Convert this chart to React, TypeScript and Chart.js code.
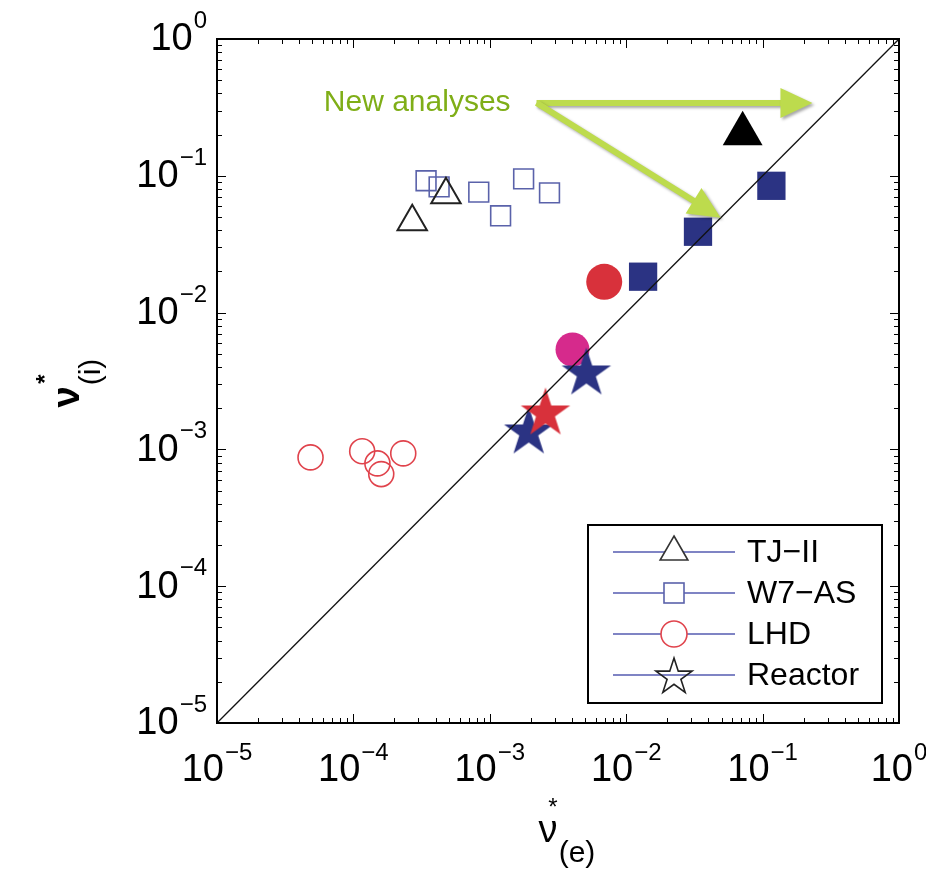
import React, { useEffect, useRef } from 'react';
import { Chart, registerables } from 'chart.js';

Chart.register(...registerables);

// ---------------- data ----------------
// earlier analyses (open markers)
const tjiiX = [2.7e-4, 4.77e-4];
const tjiiY = [0.0462, 0.0727];
const w7asX = [3.41e-4, 4.25e-4, 8.3e-4, 1.2e-3, 1.77e-3, 2.74e-3];
const w7asY = [0.092, 0.083, 0.076, 0.051, 0.095, 0.075];
const lhdX = [4.85e-5, 1.16e-4, 1.5e-4, 1.6e-4, 2.32e-4];
const lhdY = [8.74e-4, 9.7e-4, 7.9e-4, 6.6e-4, 9.35e-4];

// new analyses (filled markers)
const newTjiiX = [0.0714];
const newTjiiY = [0.2026];
const newW7asX = [0.0133, 0.0336, 0.116];
const newW7asY = [0.0183, 0.039, 0.0845];
const newLhdRedX = [6.9e-3];
const newLhdRedY = [0.0168];
const newLhdMagentaX = [4.04e-3];
const newLhdMagentaY = [5.37e-3];
const reactorNavyX = [1.93e-3, 5.1e-3];
const reactorNavyY = [1.33e-3, 3.59e-3];
const reactorRedX = [2.56e-3];
const reactorRedY = [1.83e-3];

// identity line
const diagonal = [1e-5, 1];

// axes
const decades = [-5, -4, -3, -2, -1, 0];
const tickBase = '10';
const xTitle = { main: 'ν', sup: '*', sub: '(e)' };
const yTitle = { main: 'ν', sup: '*', sub: '(i)' };

// legend
const legendLabels = ['TJ−II', 'W7−AS', 'LHD', 'Reactor'];

// annotation (data coordinates)
const annotationText = 'New analyses';
const annotationAnchor = [1.42e-3, 0.341];
const arrowStart = [2.2e-3, 0.341];
const arrowTipsX = [0.232, 0.0493];
const arrowTipsY = [0.341, 0.0494];

// ---------------- styles ----------------
const FONT = '"Liberation Sans", Arial, Helvetica, sans-serif';
const NAVY = '#2b3383';
const RED = '#d8313b';
const MAGENTA = '#d62a8c';
const OPEN_BLUE = '#5a62aa';
const OPEN_RED = '#e0434c';
const OPEN_BLACK = '#222222';
const LEGEND_LINE = '#7f84c4';
const ARROW = '#bddb4d';
const ANNOT = '#7fae17';

function starCanvas(R: number, fill: string | null, stroke: string | null, lw: number) {
  const pad = lw + 2;
  const size = Math.ceil(2 * R + 2 * pad);
  const c = document.createElement('canvas');
  c.width = size;
  c.height = size;
  const ctx = c.getContext('2d')!;
  const cx = size / 2;
  const cy = size / 2;
  ctx.beginPath();
  for (let i = 0; i < 10; i++) {
    const r = i % 2 === 0 ? R : R * 0.382;
    const a = -Math.PI / 2 + (i * Math.PI) / 5;
    const px = cx + r * Math.cos(a);
    const py = cy + r * Math.sin(a);
    if (i === 0) ctx.moveTo(px, py);
    else ctx.lineTo(px, py);
  }
  ctx.closePath();
  if (fill) {
    ctx.fillStyle = fill;
    ctx.fill();
  }
  if (stroke) {
    ctx.strokeStyle = stroke;
    ctx.lineWidth = lw;
    ctx.lineJoin = 'miter';
    ctx.stroke();
  }
  return c;
}

const pts = (xs: number[], ys: number[]) => xs.map((x, i) => ({ x, y: ys[i] }));

export default function App() {
  const ref = useRef<HTMLCanvasElement>(null);

  useEffect(() => {
    document.body.style.margin = '0';
    const canvas = ref.current!;
    const navyStar = starCanvas(26, NAVY, null, 0);
    const redStar = starCanvas(26, RED, null, 0);
    const legendStar = starCanvas(19, null, '#222', 1.6);

    const overlay = {
      id: 'overlay',
      afterDraw(chart: any) {
        const ctx: CanvasRenderingContext2D = chart.ctx;
        const xs = chart.scales.x;
        const ys = chart.scales.y;
        const { left, right, top, bottom } = chart.chartArea;
        ctx.save();

        // inward ticks on all four sides
        ctx.strokeStyle = '#000';
        ctx.lineWidth = 1;
        ctx.beginPath();
        for (const e of decades) {
          for (let m = 1; m <= 9; m++) {
            const v = m * Math.pow(10, e);
            if (v > 1.0000001) continue;
            const len = m === 1 ? 9 : 5;
            const px = Math.round(xs.getPixelForValue(v)) + 0.5;
            const py = Math.round(ys.getPixelForValue(v)) + 0.5;
            ctx.moveTo(px, bottom);
            ctx.lineTo(px, bottom - len);
            ctx.moveTo(px, top);
            ctx.lineTo(px, top + len);
            ctx.moveTo(left, py);
            ctx.lineTo(left + len, py);
            ctx.moveTo(right, py);
            ctx.lineTo(right - len, py);
          }
        }
        ctx.stroke();

        // frame
        ctx.lineWidth = 2;
        ctx.strokeRect(left, top, right - left, bottom - top);

        // tick labels with superscripts
        ctx.fillStyle = '#000';
        for (const e of decades) {
          const sup = e === 0 ? '0' : '−' + String(-e);
          ctx.font = `38px ${FONT}`;
          const w10 = ctx.measureText(tickBase).width;
          ctx.font = `24px ${FONT}`;
          const ws = ctx.measureText(sup).width;
          const total = w10 + 1 + ws;
          // x axis
          const px = xs.getPixelForValue(Math.pow(10, e));
          let x0 = px - total / 2;
          ctx.textAlign = 'left';
          ctx.textBaseline = 'middle';
          ctx.font = `38px ${FONT}`;
          ctx.fillText(tickBase, x0, 771);
          ctx.textBaseline = 'alphabetic';
          ctx.font = `24px ${FONT}`;
          ctx.fillText(sup, x0 + w10 + 1, 760);
          // y axis
          const py = ys.getPixelForValue(Math.pow(10, e));
          x0 = left - 10 - total;
          ctx.textBaseline = 'middle';
          ctx.font = `38px ${FONT}`;
          ctx.fillText(tickBase, x0, py + 1);
          ctx.textBaseline = 'alphabetic';
          ctx.font = `24px ${FONT}`;
          ctx.fillText(sup, x0 + w10 + 1, py - 11);
        }

        // x-axis title
        ctx.textAlign = 'center';
        ctx.textBaseline = 'alphabetic';
        ctx.font = `38px ${FONT}`;
        ctx.fillText(xTitle.main, 548, 842);
        ctx.font = `24px ${FONT}`;
        ctx.fillText(xTitle.sup, 553, 815);
        ctx.font = `30px ${FONT}`;
        ctx.fillText(xTitle.sub, 577, 862);

        // y-axis title (rotated)
        ctx.save();
        ctx.translate(69, 397);
        ctx.rotate(-Math.PI / 2);
        ctx.textAlign = 'center';
        ctx.font = `bold 38px ${FONT}`;
        ctx.fillText(yTitle.main, 0, 10);
        ctx.font = `bold 24px ${FONT}`;
        ctx.fillText(yTitle.sup, 18, -16);
        ctx.font = `30px ${FONT}`;
        ctx.fillText(yTitle.sub, 25, 31);
        ctx.restore();

        // arrows
        const sx = xs.getPixelForValue(arrowStart[0]);
        const sy = ys.getPixelForValue(arrowStart[1]);
        ctx.save();
        ctx.shadowColor = 'rgba(0,0,0,0.35)';
        ctx.shadowBlur = 3;
        ctx.shadowOffsetX = 2;
        ctx.shadowOffsetY = 2;
        ctx.strokeStyle = ARROW;
        ctx.fillStyle = ARROW;
        for (let i = 0; i < arrowTipsX.length; i++) {
          const tx = xs.getPixelForValue(arrowTipsX[i]);
          const ty = ys.getPixelForValue(arrowTipsY[i]);
          const dx = tx - sx;
          const dy = ty - sy;
          const L = Math.hypot(dx, dy);
          const ux = dx / L;
          const uy = dy / L;
          const nx = -uy;
          const ny = ux;
          const headL = 32;
          const headW = 15;
          const bx = tx - headL * ux;
          const by = ty - headL * uy;
          ctx.lineWidth = 6;
          ctx.beginPath();
          ctx.moveTo(sx, sy);
          ctx.lineTo(bx + 2 * ux, by + 2 * uy);
          ctx.stroke();
          ctx.beginPath();
          ctx.moveTo(tx, ty);
          ctx.lineTo(bx + headW * nx, by + headW * ny);
          ctx.lineTo(bx - headW * nx, by - headW * ny);
          ctx.closePath();
          ctx.fill();
        }
        ctx.restore();

        // annotation text
        ctx.fillStyle = ANNOT;
        ctx.font = `30px ${FONT}`;
        ctx.textAlign = 'right';
        ctx.textBaseline = 'middle';
        ctx.fillText(
          annotationText,
          xs.getPixelForValue(annotationAnchor[0]),
          ys.getPixelForValue(annotationAnchor[1])
        );

        // legend
        const bx0 = 588;
        const by0 = 525;
        const bw = 294;
        const bh = 178;
        ctx.fillStyle = '#fff';
        ctx.fillRect(bx0, by0, bw, bh);
        ctx.strokeStyle = '#000';
        ctx.lineWidth = 2;
        ctx.strokeRect(bx0, by0, bw, bh);
        const rowsY = [552, 593, 634, 675];
        for (let i = 0; i < legendLabels.length; i++) {
          const y = rowsY[i];
          ctx.strokeStyle = LEGEND_LINE;
          ctx.lineWidth = 2;
          ctx.beginPath();
          ctx.moveTo(613, y);
          ctx.lineTo(735, y);
          ctx.stroke();
          const mx = 674;
          ctx.fillStyle = '#fff';
          if (i === 0) {
            const r = 16;
            ctx.beginPath();
            ctx.moveTo(mx, y - r);
            ctx.lineTo(mx + r * 0.866, y + r * 0.5);
            ctx.lineTo(mx - r * 0.866, y + r * 0.5);
            ctx.closePath();
            ctx.fill();
            ctx.strokeStyle = '#333';
            ctx.lineWidth = 1.6;
            ctx.stroke();
          } else if (i === 1) {
            ctx.fillRect(mx - 10, y - 10, 20, 20);
            ctx.strokeStyle = OPEN_BLUE;
            ctx.lineWidth = 1.6;
            ctx.strokeRect(mx - 10, y - 10, 20, 20);
          } else if (i === 2) {
            ctx.beginPath();
            ctx.arc(mx, y, 13, 0, Math.PI * 2);
            ctx.fill();
            ctx.strokeStyle = OPEN_RED;
            ctx.lineWidth = 1.6;
            ctx.stroke();
          } else {
            ctx.drawImage(legendStar, mx - legendStar.width / 2, y + 2 - legendStar.height / 2);
          }
          ctx.fillStyle = '#000';
          ctx.font = `32px ${FONT}`;
          ctx.textAlign = 'left';
          ctx.textBaseline = 'middle';
          ctx.fillText(legendLabels[i], 747, y + 1);
        }

        ctx.restore();
      },
    };

    const chart = new Chart(canvas, {
      type: 'scatter',
      data: {
        datasets: [
          {
            label: 'identity',
            type: 'line',
            data: pts(diagonal, diagonal),
            borderColor: '#111',
            borderWidth: 1.3,
            pointRadius: 0,
            showLine: true,
            fill: false,
          } as any,
          {
            label: 'Reactor (red)',
            data: pts(reactorRedX, reactorRedY),
            pointStyle: redStar,
            pointRadius: 26,
          },
          {
            label: 'Reactor (navy)',
            data: pts(reactorNavyX, reactorNavyY),
            pointStyle: navyStar,
            pointRadius: 26,
          },
          {
            label: 'W7-AS new',
            data: pts(newW7asX, newW7asY),
            pointStyle: 'rect',
            pointRadius: 20,
            backgroundColor: NAVY,
            borderColor: NAVY,
            borderWidth: 0,
          },
          {
            label: 'TJ-II new',
            data: pts(newTjiiX, newTjiiY),
            pointStyle: 'triangle',
            pointRadius: 23,
            backgroundColor: '#000',
            borderColor: '#000',
            borderWidth: 0,
          },
          {
            label: 'LHD new (red)',
            data: pts(newLhdRedX, newLhdRedY),
            pointStyle: 'circle',
            pointRadius: 18,
            backgroundColor: RED,
            borderColor: RED,
            borderWidth: 0,
          },
          {
            label: 'LHD new (magenta)',
            data: pts(newLhdMagentaX, newLhdMagentaY),
            pointStyle: 'circle',
            pointRadius: 17,
            backgroundColor: MAGENTA,
            borderColor: MAGENTA,
            borderWidth: 0,
          },
          {
            label: 'TJ-II',
            data: pts(tjiiX, tjiiY),
            pointStyle: 'triangle',
            pointRadius: 17,
            backgroundColor: 'rgba(0,0,0,0)',
            borderColor: OPEN_BLACK,
            borderWidth: 2,
          },
          {
            label: 'W7-AS',
            data: pts(w7asX, w7asY),
            pointStyle: 'rect',
            pointRadius: 14,
            backgroundColor: 'rgba(0,0,0,0)',
            borderColor: OPEN_BLUE,
            borderWidth: 1.6,
          },
          {
            label: 'LHD',
            data: pts(lhdX, lhdY),
            pointStyle: 'circle',
            pointRadius: 12.5,
            backgroundColor: 'rgba(0,0,0,0)',
            borderColor: OPEN_RED,
            borderWidth: 1.6,
          },
        ],
      },
      options: {
        responsive: false,
        animation: false,
        events: [],
        layout: { padding: { left: 217, top: 39, right: 24, bottom: 159 } },
        scales: {
          x: { type: 'logarithmic', min: 1e-5, max: 1, display: false },
          y: { type: 'logarithmic', min: 1e-5, max: 1, display: false },
        },
        plugins: { legend: { display: false }, tooltip: { enabled: false } },
      },
      plugins: [overlay],
    });
    return () => chart.destroy();
  }, []);

  return (
    <div style={{ position: 'absolute', left: 0, top: 0, width: 926, height: 882, background: '#fff' }}>
      <canvas ref={ref} width={926} height={882} style={{ display: 'block' }} />
    </div>
  );
}
